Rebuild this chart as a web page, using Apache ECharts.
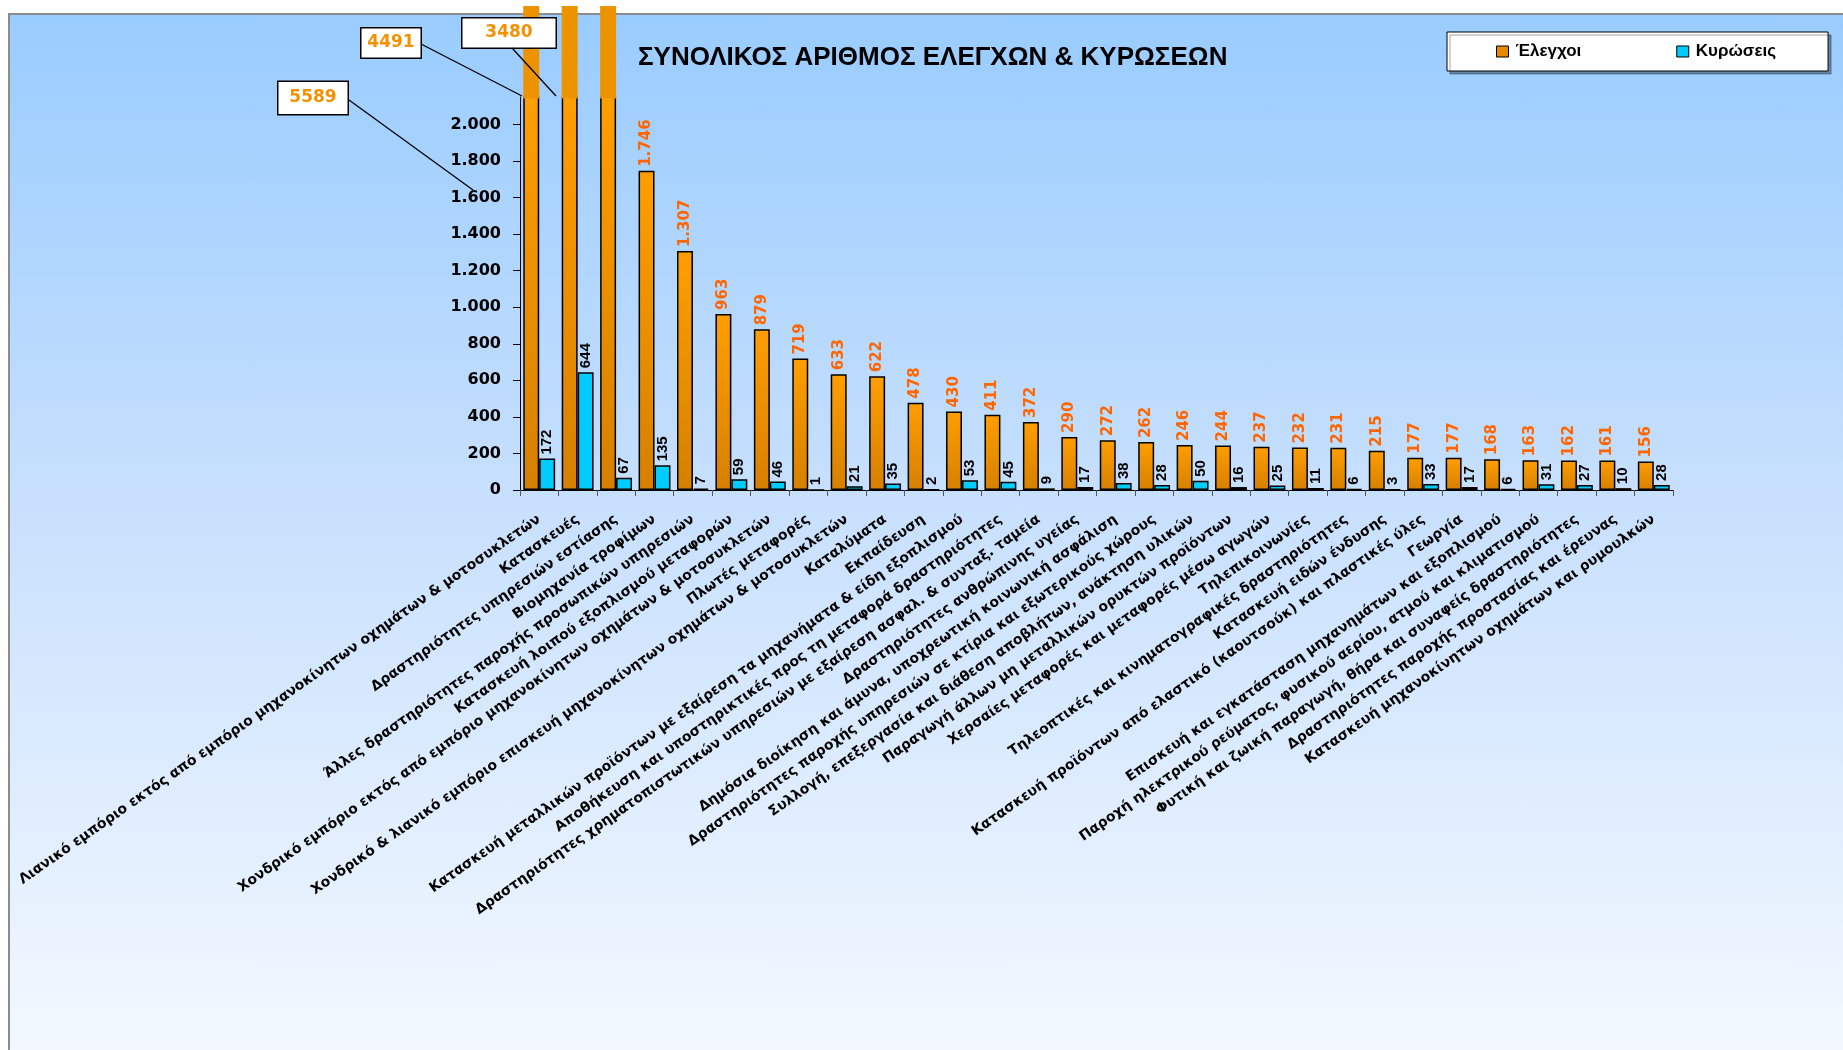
<!DOCTYPE html>
<html><head><meta charset="utf-8">
<script src="https://cdn.jsdelivr.net/npm/echarts@6/dist/echarts.min.js"></script>
<style>
html,body{margin:0;padding:0;background:#fff;width:1843px;height:1050px;overflow:hidden}
#bg{position:absolute;left:8px;top:13px;width:1835px;height:1037px;box-sizing:border-box;border-left:2px solid #8c8c8c;border-top:2px solid #8c8c8c;background:linear-gradient(to bottom,#99CCFF 0%,#C6DFFD 45%,#F3F8FF 100%)}
#chart{position:absolute;left:0;top:0;width:1843px;height:1050px}
</style></head><body>
<div id="bg"></div><div id="chart"></div>
<script>
const chartTitle = 'ΣΥΝΟΛΙΚΟΣ ΑΡΙΘΜΟΣ ΕΛΕΓΧΩΝ & ΚΥΡΩΣΕΩΝ';
const seriesNames = ['Έλεγχοι', 'Κυρώσεις'];
const categories = [
  'Λιανικό εμπόριο εκτός από εμπόριο μηχανοκίνητων οχημάτων & μοτοσυκλετών',
  'Κατασκευές',
  'Δραστηριότητες υπηρεσιών εστίασης',
  'Βιομηχανία τροφίμων',
  'Άλλες δραστηριότητες παροχής προσωπικών υπηρεσιών',
  'Κατασκευή λοιπού εξοπλισμού μεταφορών',
  'Χονδρικό εμπόριο εκτός από εμπόριο μηχανοκίνητων οχημάτων & μοτοσυκλετών',
  'Πλωτές μεταφορές',
  'Χονδρικό & λιανικό εμπόριο επισκευή μηχανοκίνητων οχημάτων & μοτοσυκλετών',
  'Καταλύματα',
  'Εκπαίδευση',
  'Κατασκευή μεταλλικών προϊόντων με εξαίρεση τα μηχανήματα & είδη εξοπλισμού',
  'Αποθήκευση και υποστηρικτικές προς τη μεταφορά δραστηριότητες',
  'Δραστηριότητες χρηματοπιστωτικών υπηρεσιών με εξαίρεση ασφαλ. & συνταξ. ταμεία',
  'Δραστηριότητες ανθρώπινης υγείας',
  'Δημόσια διοίκηση και άμυνα, υποχρεωτική κοινωνική ασφάλιση',
  'Δραστηριότητες παροχής υπηρεσιών σε κτίρια και εξωτερικούς χώρους',
  'Συλλογή, επεξεργασία και διάθεση αποβλήτων, ανάκτηση υλικών',
  'Παραγωγή άλλων μη μεταλλικών ορυκτών προϊόντων',
  'Χερσαίες μεταφορές και μεταφορές μέσω αγωγών',
  'Τηλεπικοινωνίες',
  'Τηλεοπτικές και κινηματογραφικές δραστηριότητες',
  'Κατασκευή ειδών ένδυσης',
  'Κατασκευή προϊόντων από ελαστικό (καουτσούκ) και πλαστικές ύλες',
  'Γεωργία',
  'Επισκευή και εγκατάσταση μηχανημάτων και εξοπλισμού',
  'Παροχή ηλεκτρικού ρεύματος, φυσικού αερίου, ατμού και κλιματισμού',
  'Φυτική και ζωική παραγωγή, θήρα και συναφείς δραστηριότητες',
  'Δραστηριότητες παροχής προστασίας και έρευνας',
  'Κατασκευή μηχανοκίνητων οχημάτων και ρυμουλκών'
];
const checks = [5589, 4491, 3480, 1746, 1307, 963, 879, 719, 633, 622, 478, 430, 411, 372, 290, 272, 262, 246, 244, 237, 232, 231, 215, 177, 177, 168, 163, 162, 161, 156];
const sanctions = [172, 644, 67, 135, 7, 59, 46, 1, 21, 35, 2, 53, 45, 9, 17, 38, 28, 50, 16, 25, 11, 6, 3, 33, 17, 6, 31, 27, 10, 28];
const yTicks = [0, 200, 400, 600, 800, 1000, 1200, 1400, 1600, 1800, 2000];

// axis break: main axis top, strip above it
const Y_MAX = 2150;
const STRIP_MAX = 2400;

// callout box layout (styling only)
const calloutLayout = [
  { cx: 313, cy: 98, w: 69, h: 32, line: [349, 100, 473, 190] },
  { cx: 391, cy: 43, w: 59, h: 29, line: [421, 44, 522, 96] },
  { cx: 509, cy: 33, w: 93, h: 29, line: [512, 48, 556, 96] }
];

const fmt = v => String(v).replace(/\B(?=(\d{3})+(?!\d))/g, '.');

const chart = echarts.init(document.getElementById('chart'), null, { renderer: 'canvas' });

const orangeGrad = new echarts.graphic.LinearGradient(0, 0, 0, 1, [
  { offset: 0, color: '#FF9E00' }, { offset: 1, color: '#D68000' }
]);

const mainChecks = checks.map(v => v > Y_MAX ? { value: v, label: { show: false } } : v);
const stripChecks = checks.map((v, i) => {
  if (v > Y_MAX && calloutLayout[i]) {
    const c = calloutLayout[i];
    return { value: v, label: { show: true, width: c.w, height: c.h, lineHeight: c.h } };
  }
  return { value: v, label: { show: false } };
});

const connectorLines = calloutLayout.map(c => ({
  type: 'line', silent: true, z: 10,
  shape: { x1: c.line[0], y1: c.line[1], x2: c.line[2], y2: c.line[3] },
  style: { stroke: '#000', lineWidth: 1.3 }
}));

const option = {
  animation: false,
  backgroundColor: 'transparent',
  title: {
    text: chartTitle,
    left: 638, top: 45, padding: 0,
    textStyle: { fontFamily: 'Liberation Sans', fontWeight: 'bold', fontSize: 26, color: '#000' }
  },
  legend: {
    left: 1447, top: 32,
    padding: [11, 52, 11, 49],
    itemGap: 95, itemWidth: 12, itemHeight: 11,
    backgroundColor: '#fff', borderColor: '#000', borderWidth: 1,
    shadowColor: 'rgba(0,0,0,0.35)', shadowOffsetX: 3, shadowOffsetY: 3, shadowBlur: 0,
    icon: 'rect',
    data: [
      { name: seriesNames[0], itemStyle: { color: '#E88A00', borderColor: '#000', borderWidth: 1 } },
      { name: seriesNames[1], itemStyle: { color: '#00CCFF', borderColor: '#000', borderWidth: 1 } }
    ],
    textStyle: { fontFamily: 'Liberation Sans', fontWeight: 'bold', fontSize: 17, color: '#000', padding: [0, 0, 0, 2] }
  },
  graphic: connectorLines,
  grid: [
    { left: 520, top: 97, width: 1153, height: 393, containLabel: false },
    { left: 520, top: 6, width: 1153, height: 92.5, containLabel: false }
  ],
  xAxis: [
    {
      type: 'category', gridIndex: 0, data: categories,
      axisLine: { lineStyle: { color: '#000', width: 1 } },
      axisTick: { show: true, length: 6, interval: 0, lineStyle: { color: '#555' } },
      axisLabel: {
        interval: 0, rotate: 35, margin: 28,
        fontFamily: 'DejaVu Sans', fontWeight: 'bold', fontSize: 14, color: '#000'
      }
    },
    { type: 'category', gridIndex: 1, data: categories, show: false }
  ],
  yAxis: [
    {
      type: 'value', gridIndex: 0, min: 0, max: Y_MAX,
      axisLine: { show: true, lineStyle: { color: '#000', width: 1 } },
      axisTick: { show: true, length: 7, customValues: yTicks, lineStyle: { color: '#000' } },
      axisLabel: {
        customValues: yTicks, margin: 19, formatter: v => fmt(v),
        fontFamily: 'DejaVu Sans', fontWeight: 'bold', fontSize: 16, color: '#000'
      },
      splitLine: { show: false }
    },
    { type: 'value', gridIndex: 1, min: Y_MAX, max: STRIP_MAX, show: false, splitLine: { show: false } }
  ],
  series: [
    {
      name: seriesNames[0], type: 'bar', xAxisIndex: 0, yAxisIndex: 0,
      data: mainChecks, barGap: '0%', barCategoryGap: '17%', clip: true,
      itemStyle: { color: orangeGrad, borderColor: '#000', borderWidth: 1.5 },
      label: {
        show: true, position: 'top', rotate: 90, align: 'left', verticalAlign: 'middle', distance: 4,
        formatter: p => fmt(p.value),
        fontFamily: 'DejaVu Sans', fontWeight: 'bold', fontSize: 15, color: '#FF6600',
        textShadowColor: 'rgba(70,25,0,0.75)', textShadowOffsetX: 1, textShadowOffsetY: 1, textShadowBlur: 0
      },
      z: 2
    },
    {
      name: seriesNames[1], type: 'bar', xAxisIndex: 0, yAxisIndex: 0,
      data: sanctions, barGap: '0%', barCategoryGap: '17%', clip: true,
      itemStyle: { color: '#00CCFF', borderColor: '#000', borderWidth: 1.5 },
      label: {
        show: true, position: 'top', rotate: 90, align: 'left', verticalAlign: 'middle', distance: 4,
        formatter: p => fmt(p.value),
        fontFamily: 'Liberation Sans', fontWeight: 'bold', fontSize: 15, color: '#000',
        textShadowColor: 'rgba(0,0,0,0.35)', textShadowOffsetX: 1, textShadowOffsetY: 1, textShadowBlur: 0
      },
      z: 2
    },
    {
      name: 'strip-checks', type: 'bar', xAxisIndex: 1, yAxisIndex: 1,
      data: stripChecks, barGap: '0%', barCategoryGap: '17%', clip: true,
      itemStyle: { color: '#EE9300', borderWidth: 0 },
      label: {
        position: 'inside', padding: 0, align: 'center', verticalAlign: 'middle',
        backgroundColor: '#fff', borderColor: '#000', borderWidth: 1.5,
        formatter: p => String(p.value),
        fontFamily: 'DejaVu Sans', fontWeight: 'bold', fontSize: 17, color: '#F39200',
        textShadowColor: 'rgba(110,60,0,0.8)', textShadowOffsetX: 1, textShadowOffsetY: 1, textShadowBlur: 0
      },
      labelLine: { show: false },
      labelLayout: function (p) {
        const c = calloutLayout[p.dataIndex];
        if (!c || checks[p.dataIndex] <= Y_MAX) return {};
        return { x: c.cx, y: c.cy, align: 'center', verticalAlign: 'middle' };
      },
      silent: true, z: 5
    },
    {
      name: 'strip-sanctions', type: 'bar', xAxisIndex: 1, yAxisIndex: 1,
      data: sanctions, barGap: '0%', barCategoryGap: '17%', clip: true,
      itemStyle: { opacity: 0 }, silent: true, z: 1
    }
  ]
};
chart.setOption(option);
</script>
</body></html>
